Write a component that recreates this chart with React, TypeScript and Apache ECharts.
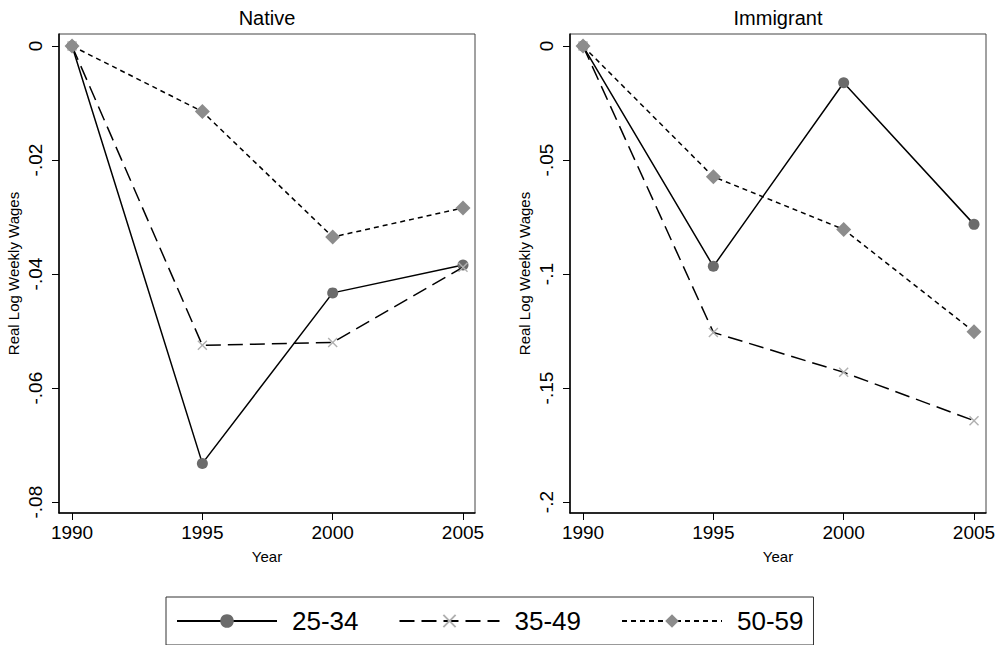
import React, { useEffect, useRef } from "react";
import * as echarts from "echarts";

const years = [1990, 1995, 2000, 2005];
const groupNames = ["25-34", "35-49", "50-59"];

const native2534 = [0, -0.0732, -0.0433, -0.0384];
const native3549 = [0, -0.0525, -0.052, -0.0388];
const native5059 = [0, -0.0115, -0.0335, -0.0284];

const immig2534 = [0, -0.0966, -0.0161, -0.0782];
const immig3549 = [0, -0.1256, -0.1431, -0.1643];
const immig5059 = [0, -0.0573, -0.0804, -0.1253];

const nativeTicks = [0, -0.02, -0.04, -0.06, -0.08];
const immigTicks = [0, -0.05, -0.1, -0.15, -0.2];
const yearTicks = [1990, 1995, 2000, 2005];

const panelTitles = ["Native", "Immigrant"];

const FONT = "'Liberation Sans', Arial, sans-serif";
const X_SYMBOL =
  "path://M0,1 L1,0 L5,4 L9,0 L10,1 L6,5 L10,9 L9,10 L5,6 L1,10 L0,9 L4,5 Z";

const stataFmt = (v: number) => {
  if (Math.abs(v) < 1e-9) return "0";
  const s = parseFloat(v.toFixed(4)).toString();
  return s.replace(/^(-?)0\./, "$1.");
};

const pairs = (vals: number[]) => years.map((y, i) => [y, vals[i]]);

const styles = [
  {
    lineStyle: { color: "#000", width: 1.5, type: "solid" },
    symbol: "circle",
    symbolSize: 11,
    itemStyle: { color: "#6b6b6b" },
  },
  {
    lineStyle: { color: "#000", width: 1.5, type: [15, 7] },
    symbol: X_SYMBOL,
    symbolSize: 10,
    itemStyle: { color: "#b0b0b0" },
  },
  {
    lineStyle: { color: "#000", width: 1.5, type: [5, 4] },
    symbol: "diamond",
    symbolSize: 15,
    itemStyle: { color: "#8c8c8c" },
  },
];

export default function App() {
  const ref = useRef<HTMLDivElement>(null);
  useEffect(() => {
    if (!ref.current) return;
    const chart = echarts.init(ref.current, null, { renderer: "svg" });

    const xAxisBase = (gridIndex: number) => ({
      type: "value",
      gridIndex,
      min: 1989.5,
      max: 2005.46,
      name: "Year",
      nameLocation: "middle",
      nameGap: 36,
      nameTextStyle: { fontSize: 15, color: "#000", fontFamily: FONT },
      axisLine: { show: true, onZero: false, lineStyle: { color: "#000", width: 1.5 } },
      axisTick: {
        show: true,
        length: 7,
        customValues: yearTicks,
        lineStyle: { color: "#000", width: 1 },
      },
      axisLabel: {
        customValues: yearTicks,
        fontSize: 19,
        color: "#000",
        fontFamily: FONT,
        margin: 10,
        formatter: (v: number) => String(v),
      },
      splitLine: { show: false },
    });

    const yAxisBase = (gridIndex: number, min: number, max: number, ticks: number[]) => ({
      type: "value",
      gridIndex,
      min,
      max,
      name: "Real Log Weekly Wages",
      nameLocation: "middle",
      nameGap: 38,
      nameTextStyle: { fontSize: 15, color: "#000", fontFamily: FONT },
      axisLine: { show: true, onZero: false, lineStyle: { color: "#000", width: 1.5 } },
      axisTick: {
        show: true,
        length: 7,
        customValues: ticks,
        lineStyle: { color: "#000", width: 1 },
      },
      axisLabel: {
        customValues: ticks,
        rotate: 90,
        fontSize: 19,
        color: "#000",
        fontFamily: FONT,
        margin: 14,
        formatter: stataFmt,
      },
      splitLine: { show: false },
    });

    const nativeData = [native2534, native3549, native5059];
    const immigData = [immig2534, immig3549, immig5059];

    const series: any[] = [];
    [nativeData, immigData].forEach((panel, p) => {
      panel.forEach((vals, i) => {
        series.push({
          type: "line",
          name: groupNames[i],
          xAxisIndex: p,
          yAxisIndex: p,
          data: pairs(vals),
          showSymbol: true,
          ...styles[i],
          z: 2 + i,
        });
      });
    });

    chart.setOption({
      animation: false,
      backgroundColor: "#fff",
      textStyle: { fontFamily: FONT },
      title: [
        {
          text: panelTitles[0],
          left: 267,
          top: 8,
          padding: 0,
          textAlign: "center",
          textStyle: { fontSize: 20, fontWeight: "normal", color: "#000", fontFamily: FONT },
        },
        {
          text: panelTitles[1],
          left: 778,
          top: 8,
          padding: 0,
          textAlign: "center",
          textStyle: { fontSize: 20, fontWeight: "normal", color: "#000", fontFamily: FONT },
        },
      ],
      grid: [
        { left: 59, top: 34, width: 416, height: 479, show: true, borderColor: "#444", borderWidth: 1 },
        { left: 570, top: 34, width: 416, height: 479, show: true, borderColor: "#444", borderWidth: 1 },
      ],
      xAxis: [xAxisBase(0), xAxisBase(1)],
      yAxis: [
        yAxisBase(0, -0.0819, 0.0021, nativeTicks),
        yAxisBase(1, -0.2048, 0.0053, immigTicks),
      ],
      legend: {
        data: groupNames,
        left: 166,
        top: 597,
        padding: [11, 10, 11, 10],
        itemWidth: 100,
        itemHeight: 17,
        itemGap: 40,
        borderColor: "#333",
        borderWidth: 1,
        selectedMode: false,
        textStyle: { fontSize: 26, color: "#000", fontFamily: FONT, padding: [0, 0, 0, 10] },
      },
      series,
    });

    return () => chart.dispose();
  }, []);

  return <div ref={ref} style={{ width: 1000, height: 645, position: "absolute", left: 0, top: 0 }} />;
}
